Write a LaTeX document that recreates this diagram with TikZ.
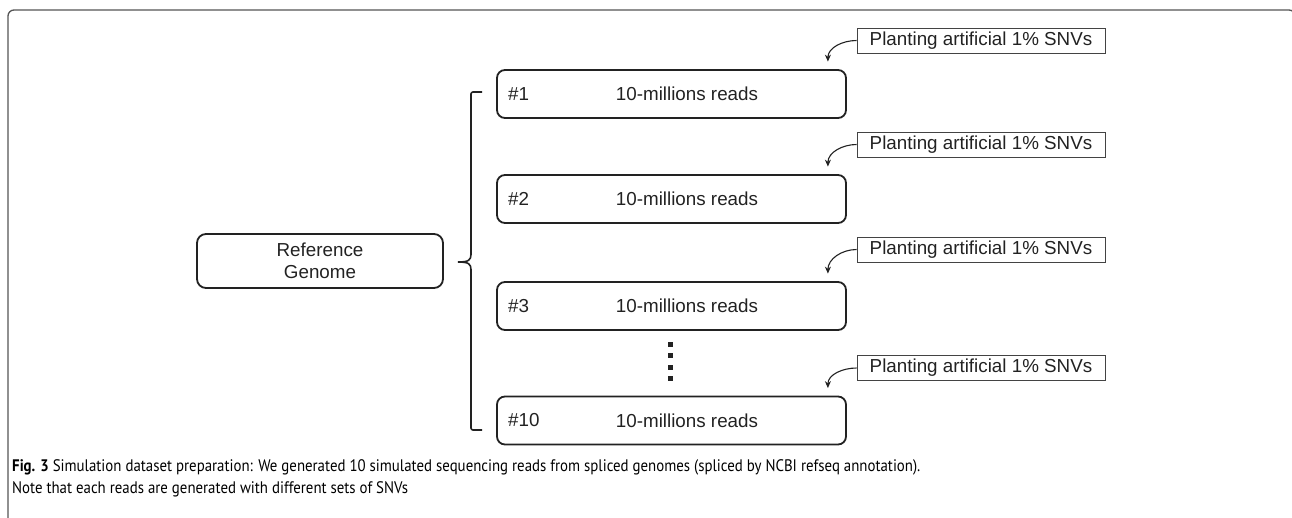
\documentclass[tikz,border=0pt]{standalone}
\usepackage{fontspec}
\setmainfont{Liberation Sans}
\newfontfamily\capfont[FakeStretch=0.89]{PT Sans}
\usetikzlibrary{arrows.meta}
\definecolor{ink}{HTML}{222222}
\definecolor{framec}{HTML}{555555}

\begin{document}
\begin{tikzpicture}[x=1pt,y=-1pt,
  every node/.style={font=\fontsize{18.8}{22}\selectfont, text=ink},
  readbox/.style={draw=ink, line width=1.8pt, rounded corners=8pt,
    minimum width=349pt, minimum height=48pt, inner sep=0pt},
  refbox/.style={draw=ink, line width=1.8pt, rounded corners=9pt,
    minimum width=246pt, minimum height=54pt, inner sep=0pt, align=center},
  snvbox/.style={draw=ink!85, line width=0.9pt, minimum width=248pt,
    minimum height=25pt, inner sep=0pt},
  plant/.style={draw=ink, line width=1.1pt, -{Stealth[length=7pt,width=6pt]}},
  brace/.style={draw=ink, line width=1.6pt},
  dotsq/.style={fill=ink, minimum size=5pt, inner sep=0pt},
  capline/.style={anchor=base west, inner sep=0pt,
    font=\capfont\fontsize{16.7}{22}\selectfont, text=black}
]
\useasboundingbox (0,0) rectangle (1292,517);

% outer frame
\draw[framec, line width=1.3pt, rounded corners=6pt]
  (8,530) -- (8,10) -- (1295,10) -- (1295,40);

% reference genome
\node[refbox] (ref) at (320,261) {Reference\\Genome};

% read sets
\foreach \i/\lab/\cy/\ly in {1/1/94/40.5, 2/2/199/144.5, 3/3/306/249.5, 4/10/420.5/368}{
  \node[readbox] (r\i) at (671.5,\cy) {};
  \node[anchor=west, inner sep=0pt] (n\i) at (508,\cy) {\#\lab};
  \node[inner sep=0pt] (t\i) at (687,\cy) {10-millions reads};
  \node[snvbox] (s\i) at (981,\ly) {Planting artificial 1\% SNVs};
  \coordinate (tip\i) at ([xshift=-19pt,yshift=7.5pt]r\i.north east);
  \draw[plant] (s\i.west) to[out=180,in=90] (tip\i);
}

% brace grouping the read sets
\coordinate (bt) at (471,92);
\coordinate (bb) at (471,430);
\coordinate (bm) at (458,262);
\draw[brace, rounded corners=2pt] (482,92) -- (bt) -- (471,255);
\draw[brace] (471,254) .. controls (471,260) and (469,262) .. (bm)
  .. controls (469,262) and (471,264) .. (471,270);
\draw[brace, rounded corners=2pt] (471,269) -- (bb) -- (482,430);

% continuation dots
\foreach \k/\dy in {1/344,2/355.5,3/367,4/378.5}{
  \node[dotsq] (d\k) at (670,\dy) {};
}

% caption
\node[capline] (cap1) at (12,471) {\textbf{Fig. 3} Simulation dataset preparation: We generated 10 simulated sequencing reads from spliced genomes (spliced by NCBI refseq annotation).};
\node[capline] (cap2) at (12,493) {Note that each reads are generated with different sets of SNVs};
\end{tikzpicture}
\end{document}
